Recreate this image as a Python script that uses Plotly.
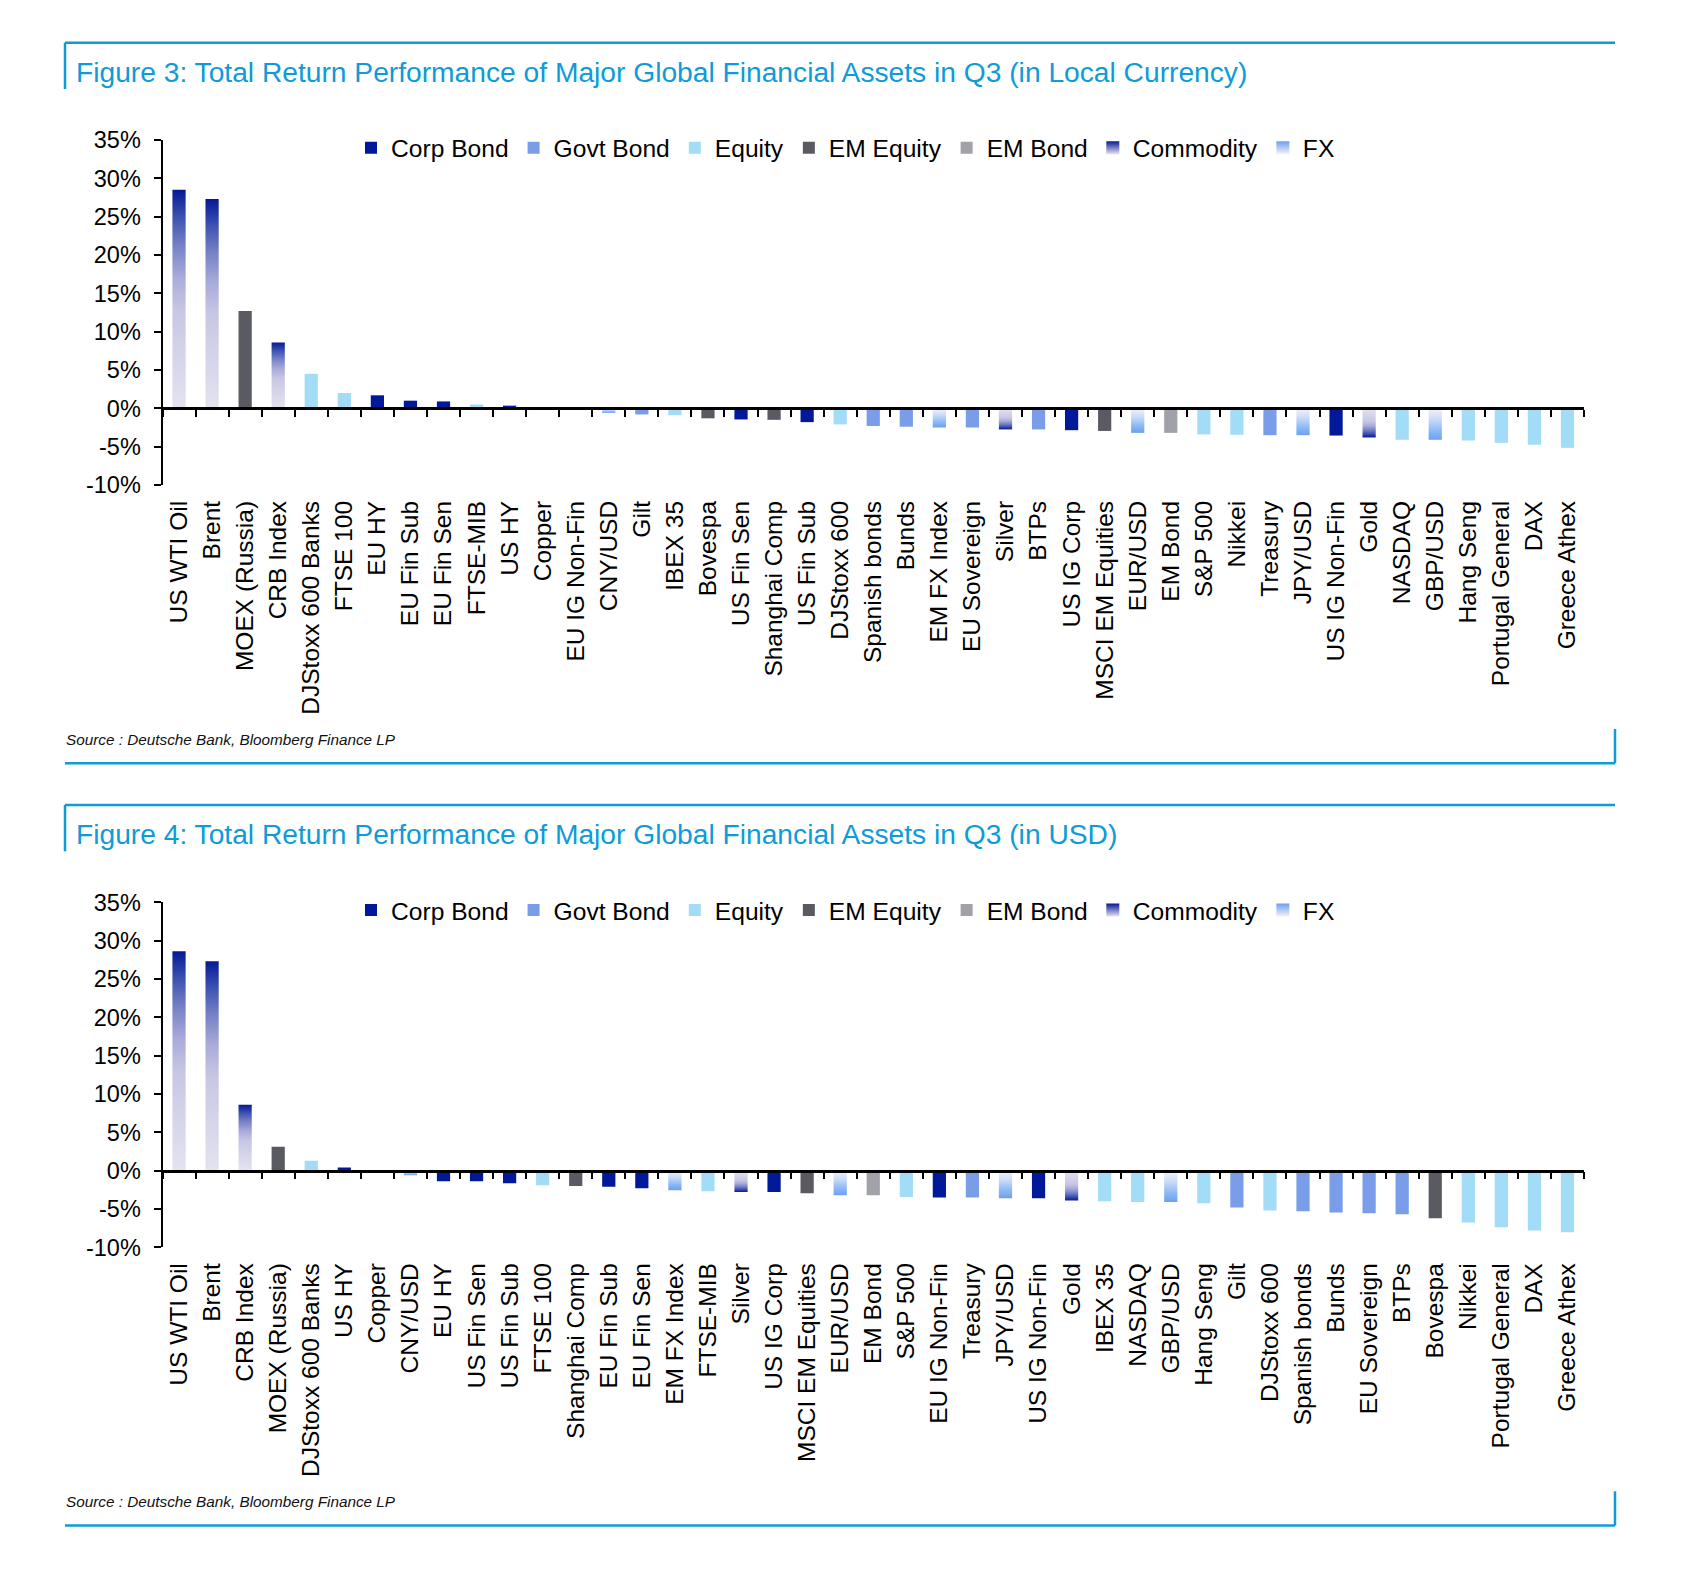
import plotly.graph_objects as go

# ---------------- data ----------------
cats_local = ["US WTI Oil", "Brent", "MOEX (Russia)", "CRB Index", "DJStoxx 600 Banks", "FTSE 100",
              "EU HY", "EU Fin Sub", "EU Fin Sen", "FTSE-MIB", "US HY", "Copper", "EU IG Non-Fin",
              "CNY/USD", "Gilt", "IBEX 35", "Bovespa", "US Fin Sen", "Shanghai Comp", "US Fin Sub",
              "DJStoxx 600", "Spanish bonds", "Bunds", "EM FX Index", "EU Sovereign", "Silver", "BTPs",
              "US IG Corp", "MSCI EM Equities", "EUR/USD", "EM Bond", "S&P 500", "Nikkei", "Treasury",
              "JPY/USD", "US IG Non-Fin", "Gold", "NASDAQ", "GBP/USD", "Hang Seng", "Portugal General",
              "DAX", "Greece Athex"]
vals_local = [28.5, 27.3, 12.7, 8.6, 4.5, 2.0, 1.7, 1.0, 0.9, 0.5, 0.35, 0.0, -0.1,
              -0.6, -0.8, -0.9, -1.3, -1.45, -1.5, -1.8, -2.1, -2.3, -2.4, -2.5, -2.5, -2.75, -2.75,
              -2.85, -2.95, -3.2, -3.2, -3.4, -3.45, -3.5, -3.5, -3.55, -3.8, -4.1, -4.1, -4.2, -4.5,
              -4.75, -5.15]

cats_usd = ["US WTI Oil", "Brent", "CRB Index", "MOEX (Russia)", "DJStoxx 600 Banks", "US HY", "Copper",
            "CNY/USD", "EU HY", "US Fin Sen", "US Fin Sub", "FTSE 100", "Shanghai Comp", "EU Fin Sub",
            "EU Fin Sen", "EM FX Index", "FTSE-MIB", "Silver", "US IG Corp", "MSCI EM Equities", "EUR/USD",
            "EM Bond", "S&P 500", "EU IG Non-Fin", "Treasury", "JPY/USD", "US IG Non-Fin", "Gold", "IBEX 35",
            "NASDAQ", "GBP/USD", "Hang Seng", "Gilt", "DJStoxx 600", "Spanish bonds", "Bunds",
            "EU Sovereign", "BTPs", "Bovespa", "Nikkei", "Portugal General", "DAX", "Greece Athex"]
vals_usd = [28.6, 27.3, 8.6, 3.1, 1.3, 0.4, 0.0, -0.6, -1.4, -1.4, -1.65, -1.9, -2.0, -2.1,
            -2.3, -2.55, -2.7, -2.8, -2.8, -2.95, -3.2, -3.2, -3.45, -3.5, -3.5, -3.6, -3.6, -3.9, -4.0,
            -4.1, -4.1, -4.25, -4.8, -5.2, -5.3, -5.45, -5.55, -5.7, -6.2, -6.75, -7.4, -7.8, -8.05]

classes = ["Corp Bond", "Govt Bond", "Equity", "EM Equity", "EM Bond", "Commodity", "FX"]
corp_bond = ["EU HY", "EU Fin Sub", "EU Fin Sen", "US HY", "EU IG Non-Fin", "US Fin Sen", "US Fin Sub",
             "US IG Corp", "US IG Non-Fin"]
govt_bond = ["Gilt", "Spanish bonds", "Bunds", "EU Sovereign", "BTPs", "Treasury"]
em_equity = ["MOEX (Russia)", "Bovespa", "Shanghai Comp", "MSCI EM Equities"]
em_bond = ["EM Bond"]
commodity = ["US WTI Oil", "Brent", "CRB Index", "Copper", "Silver", "Gold"]
fx = ["CNY/USD", "EM FX Index", "EUR/USD", "JPY/USD", "GBP/USD"]

y_ticks = [-10, -5, 0, 5, 10, 15, 20, 25, 30, 35]

titles = ["Figure 3: Total Return Performance of Major Global Financial Assets in Q3 (in Local Currency)",
          "Figure 4: Total Return Performance of Major Global Financial Assets in Q3 (in USD)"]
source = "Source : Deutsche Bank, Bloomberg Finance LP"


def asset_class(name):
    if name in corp_bond:
        return "Corp Bond"
    if name in govt_bond:
        return "Govt Bond"
    if name in em_equity:
        return "EM Equity"
    if name in em_bond:
        return "EM Bond"
    if name in commodity:
        return "Commodity"
    if name in fx:
        return "FX"
    return "Equity"


# ---------------- styles ----------------
W, H = 1686, 1570
FONT = "Liberation Sans, Arial, Helvetica, sans-serif"
BLUE = "#0E9BD8"
solid = {"Corp Bond": "#00199B", "Govt Bond": "#7A9DEA", "Equity": "#A3DCF7",
         "EM Equity": "#5A5A63", "EM Bond": "#A1A1AA"}
grad = {"Commodity": [[0, "#E4E3F0"], [0.45, "#C7C7E4"], [0.6, "#A9ABD9"], [0.75, "#7480C5"],
                      [0.88, "#3A4FAF"], [1, "#061995"]],
        "FX": [[0, "#F5F1FA"], [0.35, "#CADBF8"], [0.7, "#8DBAF7"], [1, "#6E9FEE"]]}
BAR_W = 0.4


def px_x(p):
    return p / W


def px_y(p):
    return 1 - p / H


fig = go.Figure()

OFF = 762.3  # vertical offset between the two panels (px)
panels = [
    dict(cats=cats_local, vals=vals_local, xa="x", ya="y", xo="x3", lg="legend", dy=0),
    dict(cats=cats_usd, vals=vals_usd, xa="x2", ya="y2", xo="x4", lg="legend2", dy=OFF),
]

for p in panels:
    cats, vals = p["cats"], p["vals"]
    for cls in classes:
        xs = [i for i, c in enumerate(cats) if asset_class(c) == cls]
        ys = [vals[i] for i in xs]
        names = [cats[i] for i in xs]
        if cls in solid:
            fig.add_trace(go.Bar(x=xs, y=ys, width=BAR_W, name=cls, customdata=names,
                                 marker=dict(color=solid[cls], line=dict(width=0)),
                                 xaxis=p["xa"], yaxis=p["ya"], legend=p["lg"],
                                 hovertemplate="%{customdata}: %{y:.2f}%<extra></extra>"))
        else:
            cs = grad[cls]
            fig.add_trace(go.Scatter(x=[None], y=[None], mode="markers", name=cls,
                                     marker=dict(symbol="square", size=13, color=cs[-1][1],
                                                 gradient=dict(type="vertical", color=cs[0][1])),
                                     xaxis=p["xa"], yaxis=p["ya"], legend=p["lg"]))
            for x, y, nm in zip(xs, ys, names):
                if y == 0:
                    continue
                if y > 0:
                    scale = cs
                else:
                    scale = [[round(1 - s, 4), c] for s, c in reversed(cs)]
                fig.add_trace(go.Scatter(
                    x=[x - BAR_W / 2, x + BAR_W / 2, x + BAR_W / 2, x - BAR_W / 2, x - BAR_W / 2],
                    y=[0, 0, y, y, 0], mode="lines", line=dict(width=0, color="rgba(0,0,0,0)"),
                    fill="toself",
                    fillgradient=dict(type="vertical", colorscale=scale, start=min(0, y), stop=max(0, y)),
                    showlegend=False, name=nm, hoverinfo="skip",
                    xaxis=p["xo"], yaxis=p["ya"]))

# ---------------- axes ----------------
x_dom = [px_x(162.5), px_x(1584)]
YMIN, YMAX = -10, 35
layout_axes = {}
for k, p in enumerate(panels):
    dy = p["dy"]
    y_dom = [px_y(485 + dy), px_y(140 + dy)]
    zero_pos = y_dom[0] + (0 - YMIN) / (YMAX - YMIN) * (y_dom[1] - y_dom[0])
    n = len(p["cats"])
    xname = "xaxis" if k == 0 else "xaxis2"
    yname = "yaxis" if k == 0 else "yaxis2"
    oname = "xaxis3" if k == 0 else "xaxis4"
    layout_axes[xname] = dict(domain=x_dom, anchor=p["ya"], range=[-0.5, n - 0.5], autorange=False,
                              tickmode="array", tickvals=list(range(n)), ticktext=p["cats"],
                              tickangle=-90, ticks="", showline=False, showgrid=False, zeroline=False,
                              ticklabelstandoff=10, automargin=False,
                              tickfont=dict(family=FONT, size=24.5, color="#000"))
    layout_axes[yname] = dict(domain=y_dom, anchor=p["xa"], range=[YMIN, YMAX], autorange=False,
                              tickmode="array", tickvals=y_ticks, ticktext=[f"{v}%" for v in y_ticks],
                              ticks="outside", ticklen=7, tickwidth=2, tickcolor="#000",
                              showline=True, linewidth=2, linecolor="#000", showgrid=False,
                              zeroline=False, ticklabelstandoff=8, automargin=False,
                              tickfont=dict(family=FONT, size=23.5, color="#000"))
    layout_axes[oname] = dict(overlaying=p["xa"], anchor="free", position=zero_pos, domain=x_dom,
                              range=[-0.5, n - 0.5], autorange=False, side="bottom",
                              tickmode="array", tickvals=[i - 0.5 for i in range(n + 1)],
                              showticklabels=False, ticks="outside", ticklen=7, tickwidth=2,
                              tickcolor="#000", showline=True, linewidth=2.5, linecolor="#000",
                              showgrid=False, zeroline=False, automargin=False)

# ---------------- frames, titles, source ----------------
shapes = []
annotations = []
for k, p in enumerate(panels):
    dy = p["dy"]
    line = dict(color=BLUE, width=2.5)
    shapes += [
        dict(type="line", xref="paper", yref="paper", x0=px_x(65), x1=px_x(1615),
             y0=px_y(42.7 + dy), y1=px_y(42.7 + dy), line=line),
        dict(type="line", xref="paper", yref="paper", x0=px_x(65), x1=px_x(65),
             y0=px_y(42.7 + dy), y1=px_y(89 + dy), line=line),
        dict(type="line", xref="paper", yref="paper", x0=px_x(65), x1=px_x(1615),
             y0=px_y(763.3 + dy), y1=px_y(763.3 + dy), line=line),
        dict(type="line", xref="paper", yref="paper", x0=px_x(1615), x1=px_x(1615),
             y0=px_y(729 + dy), y1=px_y(763.3 + dy), line=line),
    ]
    annotations += [
        dict(text=titles[k], xref="paper", yref="paper", x=px_x(74), y=px_y(72 + dy),
             xanchor="left", yanchor="middle", showarrow=False,
             font=dict(family=FONT, size=28.2, color=BLUE)),
        dict(text=f"<i>{source}</i>", xref="paper", yref="paper", x=px_x(64), y=px_y(739.5 + dy),
             xanchor="left", yanchor="middle", showarrow=False,
             font=dict(family=FONT, size=15.3, color="#111")),
    ]

legend_common = dict(orientation="h", xanchor="left", yanchor="middle", x=px_x(351),
                     bgcolor="rgba(0,0,0,0)", borderwidth=0, traceorder="normal",
                     font=dict(family=FONT, size=24.6, color="#000"))

fig.update_layout(
    width=W, height=H, margin=dict(l=0, r=0, t=0, b=0, pad=0, autoexpand=False),
    paper_bgcolor="white", plot_bgcolor="white",
    barmode="overlay", showlegend=True,
    font=dict(family=FONT, color="#000"),
    legend=dict(legend_common, y=px_y(147.7)),
    legend2=dict(legend_common, y=px_y(147.7 + OFF)),
    shapes=shapes, annotations=annotations,
    **layout_axes,
)

fig.write_html("out.html", config={"displayModeBar": False},
               post_script="document.body.style.margin='0px';")
